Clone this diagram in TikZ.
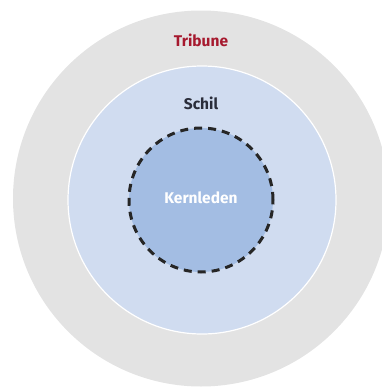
\documentclass[tikz,border=0pt]{standalone}
\usepackage{fontspec}
\setmainfont{Fira Sans}
\definecolor{outergrey}{HTML}{E3E3E3}
\definecolor{shellblue}{HTML}{D0DCF0}
\definecolor{coreblue}{HTML}{A3BDE3}
\definecolor{tribred}{HTML}{A6192E}
\definecolor{schiltext}{HTML}{2A2D3A}
\tikzset{
  lbl/.style={font=\fontsize{15.5}{18}\selectfont\bfseries, inner sep=0pt},
  ring/.style={circle, inner sep=0pt},
}
\begin{document}
\begin{tikzpicture}[x=1pt,y=-1pt]
\useasboundingbox (0,0) rectangle (382,388);
\begin{scope}
\clip (0,0) rectangle (382,388);
\node[ring, fill=outergrey, minimum size=376pt] (trib) at (201,198.5) {};
\end{scope}
\node[ring, fill=shellblue, draw=white, line width=1.2pt, minimum size=268pt] (schil) at (202,200) {};
\node[ring, fill=coreblue, draw=black!85, line width=3pt, dash pattern=on 8pt off 6pt, minimum size=144pt] (kern) at (201,200) {};
\node[lbl, text=tribred] (tl) at (201,40) {Tribune};
\node[lbl, text=schiltext] (sl) at (201,103) {Schil};
\node[lbl, text=white] (kl) at (201,198) {Kernleden};
\end{tikzpicture}
\end{document}
